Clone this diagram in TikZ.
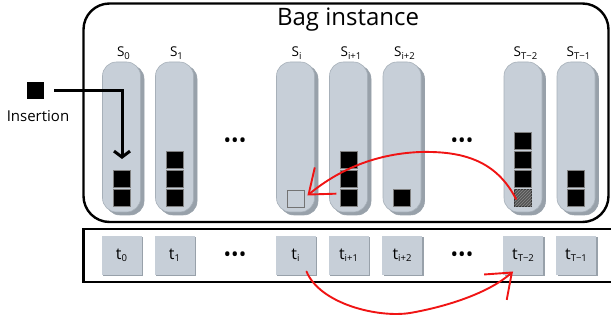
\documentclass[tikz,border=0pt]{standalone}
\usepackage{fontspec}
\setmainfont{Open Sans}
\usetikzlibrary{arrows.meta,shadows,patterns}
\definecolor{pillarfill}{HTML}{C7CFD8}
\definecolor{pillarshadow}{HTML}{98A1AA}
\definecolor{pillarline}{HTML}{A7B0B9}
\definecolor{redline}{HTML}{F01414}
\definecolor{hatchfill}{HTML}{555555}
\definecolor{hatchline}{HTML}{8A8A8A}
\newcommand\sbx[1]{\raisebox{-2.4pt}{\fontsize{9.5}{10}\selectfont #1}}
\begin{document}
\begin{tikzpicture}[x=1pt,y=-1pt,
  pillar/.style={draw=pillarline, line width=0.6pt, fill=pillarfill, rounded corners=14pt,
    minimum width=38pt, minimum height=150pt, inner sep=0pt,
    general shadow={shadow xshift=3.5pt, shadow yshift=-3pt, fill=pillarshadow, draw=pillarshadow}},
  blk/.style={fill=black, draw=black!50, line width=0.5pt, minimum size=17pt, inner sep=0pt},
  emptysq/.style={fill=pillarfill, draw=black!55, line width=0.8pt, minimum size=17pt, inner sep=0pt},
  hatchsq/.style={fill=hatchfill, draw=black!80, line width=0.6pt, minimum size=17.5pt, inner sep=0pt,
    postaction={pattern=north east lines, pattern color=hatchline}},
  tsq/.style={fill=pillarfill, minimum width=40pt, minimum height=39pt, inner sep=0pt,
    general shadow={shadow xshift=1.5pt, shadow yshift=-1.5pt, fill=pillarshadow},
    font=\fontsize{16}{16}\selectfont},
  slabel/.style={anchor=base, inner sep=0pt, font=\fontsize{13.5}{14}\selectfont},
  dots/.style={font=\fontsize{20}{20}\selectfont, inner sep=0pt},
  insarrow/.style={line width=3pt, -{Straight Barb[length=6pt,width=16pt]}},
  redarrow/.style={draw=redline, line width=1.9pt, line cap=round,
    -{Straight Barb[length=22pt,width=34pt]}},
  frame/.style={line width=2.4pt}
]
\useasboundingbox (0,0) rectangle (611,320);

% Bag instance frame
\draw[frame, rounded corners=26pt] (83.5,3.5) rectangle (608.5,222);
\node[anchor=base, inner sep=0pt, font=\fontsize{24}{24}\selectfont] (title) at (348,26) {Bag instance};

% pillars
\foreach \n/\c in {p0/121.5, p1/174.5, pi/295.5, pia/348.5, pib/402, pta/523, ptb/576}
  \node[pillar] (\n) at (\c,137) {};

% labels
\node[slabel] (s0) at (123.5,57) {S\sbx{0}};
\node[slabel] (s1) at (176.5,57) {S\sbx{1}};
\node[slabel] (si) at (296.5,57) {S\sbx{i}};
\node[slabel] (sia) at (351,57) {S\sbx{i+1}};
\node[slabel] (sib) at (404.5,57) {S\sbx{i+2}};
\node[slabel] (sta) at (525.5,57) {S\sbx{T−2}};
\node[slabel] (stb) at (578.5,57) {S\sbx{T−1}};

% dots
\node[dots] (d1) at (235,143) {•••};
\node[dots] (d2) at (462,143) {•••};

% blocks
\node[blk] (b0a) at (121.5,198) {};
\node[blk] (b0b) at (121.5,179) {};
\node[blk] (b1a) at (174.5,198) {};
\node[blk] (b1b) at (174.5,179) {};
\node[blk] (b1c) at (174.5,160) {};
\node[emptysq] (e) at (295.5,198.5) {};
\node[blk] (bia) at (348.5,198) {};
\node[blk] (bib) at (348.5,179) {};
\node[blk] (bic) at (348.5,160) {};
\node[blk] (bja) at (402,198) {};
\node[hatchsq] (h) at (523,198) {};
\node[blk] (bta) at (523,179) {};
\node[blk] (btb) at (523,160) {};
\node[blk] (btc) at (523,141) {};
\node[blk] (bua) at (576,198) {};
\node[blk] (bub) at (576,179) {};

% insertion
\node[fill=black, minimum size=17pt, inner sep=0pt] (ins) at (35.5,90.5) {};
\node[inner sep=0pt, font=\fontsize{15}{15}\selectfont] (instext) at (38,116) {Insertion};
\coordinate (insend) at (122,159);
\draw[insarrow] ([xshift=10pt]ins.east) -| (insend);

% red arrow on top
\draw[redarrow] ([shift={(-7,1)}]h.center)
  .. controls (496,160) and (462,151) .. (420,152)
  .. controls (372,154) and (336,172) .. ([shift={(3,-3)}]e.east);

% bottom array
\draw[frame] (611,229) -- (83.5,229) -- (83.5,282) -- (611,282);
\node[tsq] (t0) at (121.5,255.5) {t\sbx{0}};
\node[tsq] (t1) at (174.5,255.5) {t\sbx{1}};
\node[tsq] (ti) at (295.5,255.5) {t\sbx{i}};
\node[tsq] (tia) at (348.5,255.5) {t\sbx{i+1}};
\node[tsq] (tib) at (402,255.5) {t\sbx{i+2}};
\node[tsq] (tta) at (523,255.5) {t\sbx{T−2}};
\node[tsq] (ttb) at (576,255.5) {t\sbx{T−1}};
\node[dots] (d3) at (235,257) {•••};
\node[dots] (d4) at (462,257) {•••};

% red arrow at bottom
\draw[redarrow] ([shift={(11,16)}]ti.center)
  .. controls (320,304) and (378,318) .. (410,313)
  .. controls (450,306) and (490,292) .. ([shift={(-10,16)}]tta.center);
\end{tikzpicture}
\end{document}
